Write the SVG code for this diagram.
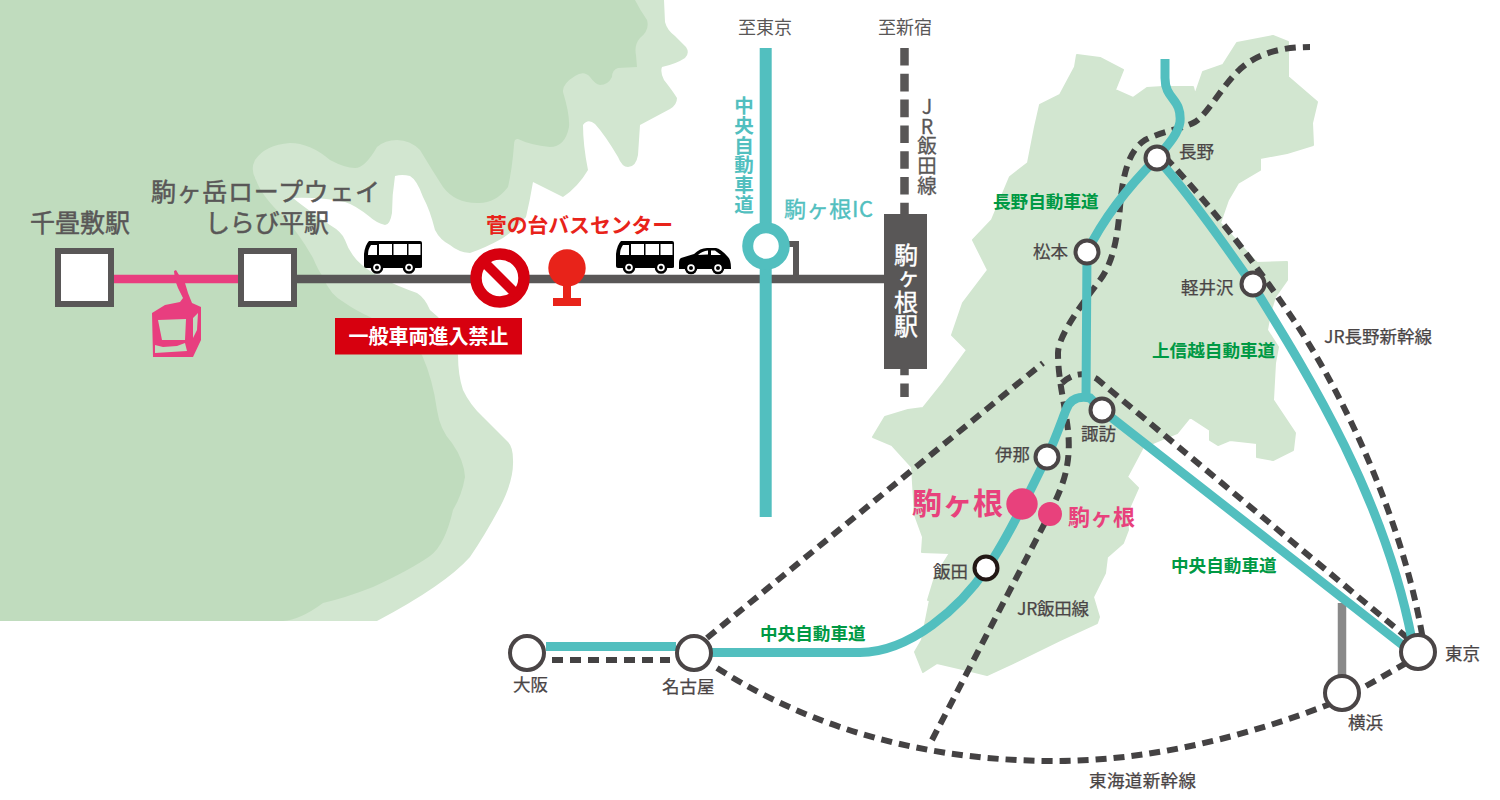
<svg xmlns="http://www.w3.org/2000/svg" xmlns:xlink="http://www.w3.org/1999/xlink" width="1500" height="800" viewBox="0 0 1500 800">
<style>
text{font-family:"Noto Sans CJK JP","Noto Sans",sans-serif}
.lbl{font-size:17.5px;fill:#4a4546;stroke:#4a4546;stroke-width:.25}
.grn{font-size:17.6px;fill:#009944;font-weight:700}
.big{font-size:25px;fill:#595757;stroke:#595757;stroke-width:.5}
.mid{text-anchor:middle}
.vert{writing-mode:vertical-rl;text-orientation:upright}
.teal{fill:none;stroke:#52bfbf;stroke-width:9}
.dash{fill:none;stroke:#444243;stroke-width:6;stroke-dasharray:11 7}
.st{fill:#fff;stroke:#4a4546;stroke-width:4}
.sq{fill:#fff;stroke:#595757;stroke-width:6}
</style>
<defs>
<g id="wheel"><circle r="6.3" fill="#000"/><circle r="3.8" fill="#fff"/><circle r="2" fill="#000"/></g>
<g id="bus">
<path d="M5,0H56Q58,0 58,2V26Q58,27 56,27H2Q0,27 0,25V13Q1,4 5,0Z" fill="#000"/>
<path d="M7,4H13V14H4Q4,8 7,4ZM15,3H28V14H15ZM29.500,3H43V14H29.500ZM44.500,3H56.500V14H44.500Z" fill="#fff"/>
<use xlink:href="#wheel" href="#wheel" x="13" y="26.500"/><use xlink:href="#wheel" href="#wheel" x="45" y="26.500"/>
</g>
<g id="car">
<path d="M0,15Q0,11 2,10L15,6Q21,0 28,0H37Q42,1 49,9Q52,12 52,20V21H0Z" fill="#000"/>
<path d="M19,7Q23,3 29,2.500V6.500ZM32,2.500H36L42,7H32Z" fill="#fff"/>
<use xlink:href="#wheel" href="#wheel" x="12" y="20"/><use xlink:href="#wheel" href="#wheel" x="39" y="20"/>
</g>
</defs>
<g id="mountains">
<path fill="#d2e6d0" d="M664,0L665,22Q667,30 675,36L686,47Q690,53 685,58Q676,64 662,67Q660,72 664,80Q672,90 677,98Q677,105 670,109L640,125Q639,140 638,155Q636,167 628,167Q622,167 618,157Q605,135 595,124Q588,118 583,125Q583,145 588,170Q578,187 563,197L533,182Q530,200 526,217Q515,230 503,238Q485,248 470,253Q458,252 450,245Q440,240 435,230Q430,210 423,197Q417,180 410,176Q402,174 395,176Q392,195 392,213Q390,225 385,225Q375,222 370,217Q355,205 345,202Q320,197 293,198Q305,208 330,225Q342,232 345,240Q350,255 362,265Q380,280 417,293Q425,298 430,310L438,317Q450,330 458,355Q458,375 463,390Q470,405 483,417L508,442Q513,447 513,460Q514,480 500,507Q485,535 470,557Q445,585 377,621L0,621L0,0Z"/>
<path fill="#c0dcbe" d="M0,0H635Q640,10 647,20Q650,30 640,38Q634,45 636,55L637,67L618,68Q612,70 612,77Q608,85 600,85Q595,84 590,77Q584,70 575,76Q562,84 563,92Q570,115 569,127Q565,147 550,147Q530,145 518,139Q514,138 514,145Q512,170 508,187Q495,204 477,203Q455,203 443,187Q432,170 420,150Q410,140 397,140Q385,140 377,147Q365,168 355,168Q345,168 330,160Q310,143 290,143Q265,145 255,160Q250,170 256,180Q262,197 285,218Q300,235 313,258Q318,270 323,277Q330,295 345,303Q355,310 370,317Q400,332 422,355Q433,380 437,410Q440,430 452,443Q464,460 465,477Q462,495 453,510Q445,545 430,556Q410,570 373,587Q345,598 323,603Q300,620 283,621H0Z"/>
</g>
<path id="nagano" fill="#d2e6d0" stroke="#d2e6d0" stroke-width="2" stroke-linejoin="round" d="M1077,55L1100,58L1123,70L1115,90L1133,98L1147,88L1163,87L1193,87L1195,95L1203,72L1223,65L1237,43L1273,36L1288,42L1288,77L1317,102L1312,123L1313,145L1287,153L1260,158L1260,170L1238,183L1228,200L1220,223L1257,263L1287,262L1287,280L1275,297L1270,313L1267,330L1278,347L1275,363L1273,400L1295,433L1293,450L1273,460L1257,457L1257,443L1230,440L1218,445L1210,440L1210,430L1190,417L1177,433L1143,447L1127,477L1138,488L1127,513L1128,530L1123,543L1107,557L1105,573L1093,597L1099,617L1097,623L1060,640L1013,663L987,675L967,670L937,663L923,672L915,652L922,640L930,600L947,598L928,600L935,577L950,553L922,552L923,537L915,515L912,467L892,445L873,437L885,417L908,410L923,408L943,383L967,350L952,335L963,303L988,270L973,240L992,220L1010,177L1028,163L1035,127L1040,105L1060,95L1075,67Z"/>
<g id="connectors">
<path d="M114,279H238" fill="none" stroke="#e83e7f" stroke-width="8.500"/>
<path d="M297,279H885" fill="none" stroke="#595757" stroke-width="8.500"/>
<path d="M789,244H796V276" fill="none" stroke="#595757" stroke-width="6"/>
<path d="M904.500,48V397" fill="none" stroke="#595757" stroke-width="8.500" stroke-dasharray="17.600 8.200"/>
<path d="M765.700,48V517" fill="none" stroke="#52bfbf" stroke-width="12"/>
<path d="M1342,603V675" fill="none" stroke="#898989" stroke-width="8.500"/>
<path class="dash" d="M552,660H670"/>
<path class="dash" d="M707,638L1043,363"/>
<path class="dash" d="M1062,383Q1078,368 1097,379L1410,640"/>
<path class="dash" d="M717,668C790,715 900,760 1050,761C1150,762 1250,735 1330,704"/>
<path class="dash" d="M1366,686L1408,662"/>
<path class="dash" d="M932,740L1050,513C1060,490 1072,470 1068,430C1065,405 1058,380 1058,353C1058,335 1085,300 1100,280C1115,260 1118,230 1120,207C1123,170 1130,150 1145,140C1165,130 1180,130 1195,122C1210,112 1225,80 1245,65C1265,50 1290,47 1310,47"/>
<path class="dash" d="M1165,157C1215,210 1260,270 1295,322C1350,405 1405,530 1423,640"/>
<path class="teal" d="M546,646.500H676"/>
<path class="teal" d="M712,652.500H860C910,652 960,608 987,568C1010,535 1030,490 1047,457C1055,440 1062,420 1066,410C1070,398 1080,396 1090,398L1102,410L1405,647"/>
<path class="teal" d="M1165,59V78C1165,100 1182,98 1180,122C1178,135 1165,148 1157,158C1130,185 1105,215 1087,252L1086,398"/>
<path class="teal" d="M1157,158C1190,195 1225,245 1252,284C1312,380 1385,500 1412,640"/>
</g>
<g id="senjojiki"><rect class="sq" x="58" y="251" width="53" height="53"/><text class="big" x="30" y="232" textLength="100">千畳敷駅</text></g>
<g id="gondola"><path fill="#e83e7f" d="M174,271L176,270L179,275L185,283L188,293L192,303L201,307V340L193,357H153L152,313L165,305L180,302L183,298L178,288L175,280Z"/><path fill="#c0dcbe" d="M158,320L162,340H185L186,319ZM193,318L193,338L197,330L198,313ZM155,345V353L187,351L185,343L177,346L163,347Z"/></g>
<g id="shirabidaira"><rect class="sq" x="241" y="251" width="53" height="53"/><text class="big" x="151" y="201" textLength="229">駒ヶ岳ロープウェイ</text><text class="big" x="205" y="232" textLength="124">しらび平駅</text></g>
<g id="bus1"><use xlink:href="#bus" href="#bus" x="364" y="241"/></g>
<g id="noentry"><circle cx="500" cy="278" r="24" fill="#fff" stroke="#d7000f" stroke-width="11.500"/><path d="M484,262L516,294" stroke="#d7000f" stroke-width="10"/></g>
<g id="noentry-label"><rect x="335" y="318" width="187" height="36.500" fill="#d7000f"/><text x="428.500" y="343.500" class="mid" font-size="20" font-weight="700" fill="#fff">一般車両進入禁止</text></g>
<g id="busstop"><circle cx="567" cy="268" r="18.700" fill="#e8231a"/><path d="M563,280H571V298H581V306H553V298H563Z" fill="#e8231a"/><text x="486" y="233" font-size="20.800" font-weight="700" fill="#e8231a" textLength="187">菅の台バスセンター</text></g>
<g id="bus2"><use xlink:href="#bus" href="#bus" x="616" y="241"/></g>
<g id="car1"><use xlink:href="#car" href="#car" x="679" y="248"/></g>
<g id="ic"><circle cx="766" cy="246" r="18.300" fill="#fff" stroke="#52bfbf" stroke-width="11"/><text x="784" y="217" font-size="22" fill="#52bfbf" stroke="#52bfbf" stroke-width=".4" textLength="89">駒ヶ根IC</text></g>
<g id="tokyo-dir"><text x="765" y="34" class="mid" font-size="18" fill="#595757">至東京</text></g>
<g id="shinjuku-dir"><text x="905" y="34" class="mid" font-size="18" fill="#595757">至新宿</text></g>
<text class="vert" x="744" y="96" font-size="19.500" font-weight="700" fill="#52bfbf" letter-spacing=".2">中央自動車道</text>
<text class="vert" x="927" y="97" font-size="19.500" fill="#595757" stroke="#595757" stroke-width=".3" letter-spacing=".1">JR飯田線</text>
<g id="komagane-station"><rect x="884" y="214" width="43" height="155" fill="#595757"/><text class="vert" x="906" y="243" font-size="24" fill="#fff" stroke="#fff" stroke-width=".4" letter-spacing="-.4">駒ヶ根駅</text></g>
<g id="n-nagano"><circle class="st" cx="1157" cy="158" r="11.500"/><text class="lbl" x="1179" y="158">長野</text></g>
<g id="n-matsumoto"><circle class="st" cx="1087" cy="252" r="11.500"/><text class="lbl" x="1033" y="258">松本</text></g>
<g id="n-karuizawa"><circle class="st" cx="1253" cy="284" r="11.500"/><text class="lbl" x="1181" y="294">軽井沢</text></g>
<g id="n-suwa"><circle class="st" cx="1102" cy="410" r="11.500"/><text class="lbl" x="1081" y="440">諏訪</text></g>
<g id="n-ina"><circle class="st" cx="1047" cy="457" r="11.500"/><text class="lbl" x="995" y="461">伊那</text></g>
<g id="n-iida"><circle class="st" style="stroke:#231815" cx="986" cy="568" r="11.500"/><text class="lbl" x="933" y="578">飯田</text></g>
<g id="n-osaka"><circle class="st" cx="527" cy="653" r="17"/><text class="lbl" x="513" y="691">大阪</text></g>
<g id="n-nagoya"><circle class="st" cx="694" cy="653" r="17"/><text class="lbl" x="662" y="693">名古屋</text></g>
<g id="n-tokyo"><circle class="st" cx="1418" cy="652" r="17"/><text class="lbl" x="1445" y="660">東京</text></g>
<g id="n-yokohama"><circle class="st" cx="1342" cy="693" r="17"/><text class="lbl" x="1348" y="729">横浜</text></g>
<g id="n-komagane"><circle cx="1022" cy="504" r="15.700" fill="#e8417c"/><text x="912" y="514" font-size="30" font-weight="700" fill="#e8417c" textLength="91">駒ヶ根</text></g>
<g id="n-komagane2"><circle cx="1050" cy="514" r="12" fill="#e8417c"/><text x="1068" y="525" font-size="22" font-weight="700" fill="#e8417c" textLength="67">駒ヶ根</text></g>
<g id="labels">
<text class="grn" x="993" y="208">長野自動車道</text>
<text class="grn" x="1152" y="357">上信越自動車道</text>
<text class="grn" x="1171" y="572">中央自動車道</text>
<text class="grn" x="760" y="640">中央自動車道</text>
<text class="lbl" x="1017" y="615" textLength="72">JR飯田線</text>
<text class="lbl" x="1324" y="343" textLength="108">JR長野新幹線</text>
<text class="lbl" x="1089" y="787" textLength="107">東海道新幹線</text>
</g>
</svg>
